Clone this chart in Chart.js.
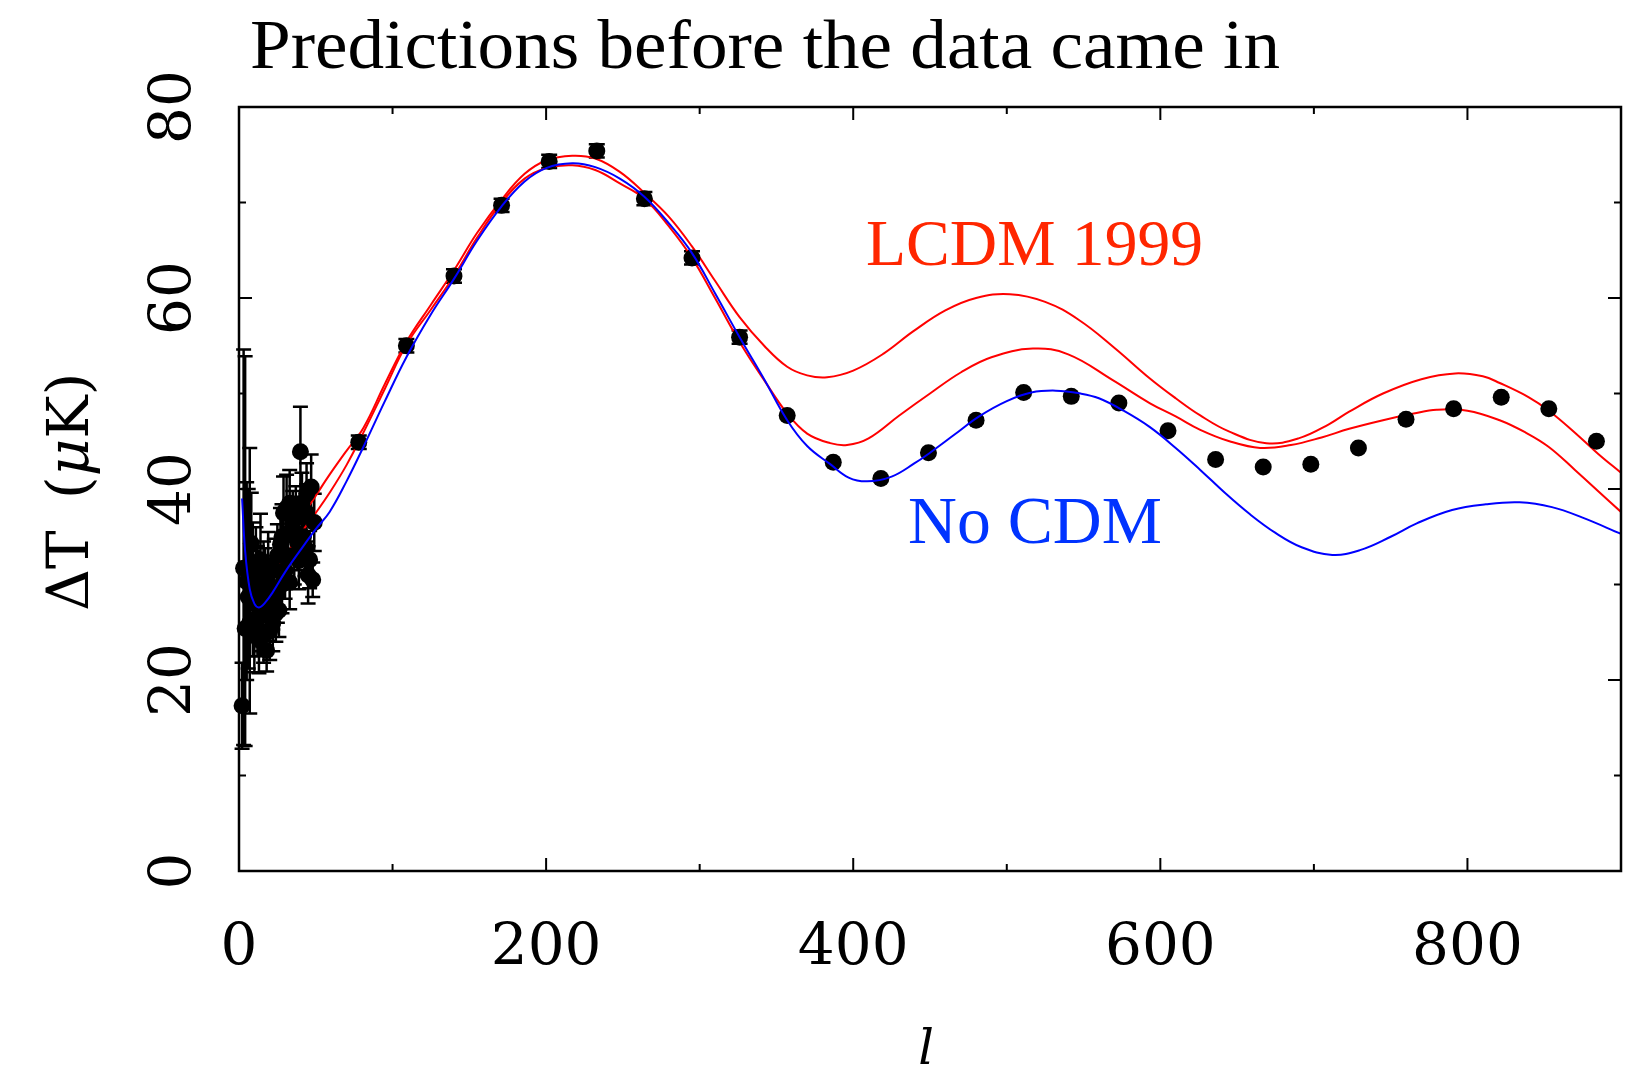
<!DOCTYPE html>
<html>
<head>
<meta charset="utf-8">
<title>Predictions before the data came in</title>
<script src="https://cdn.jsdelivr.net/npm/chart.js@4.4.1/dist/chart.umd.min.js"></script>
<style>
  html, body { margin: 0; padding: 0; background: #fff; }
  canvas { display: block; }
</style>
</head>
<body>
<canvas id="cmbChart" width="1635" height="1073"></canvas>
<script>
// axis ticks (every tick gets an inward mark, only the labelled ones are long)
const xTicks = [0, 100, 200, 300, 400, 500, 600, 700, 800, 900];
const xTickLabels = ['0', '', '200', '', '400', '', '600', '', '800', ''];
const yTicks = [0, 10, 20, 30, 40, 50, 60, 70, 80];
const yTickLabels = ['0', '', '20', '', '40', '', '60', '', '80'];

// low multipole measurements (l, dT, lower and upper error)
const lowEll = [2, 3, 4, 5, 6, 7, 8, 9, 10, 11, 12, 13, 14, 15, 16, 17, 18, 19, 20, 21, 22, 23, 24, 25,
  26, 27, 28, 29, 30, 31, 32, 33, 34, 35, 36, 37, 38, 40, 41, 42, 43, 44, 45, 46, 47, 48, 49,
  9, 12, 14, 16, 19, 22, 25, 28, 33, 36, 39, 44];
const lowDT = [17.3, 31.7, 25.4, 30.3, 28.7, 26.0, 34.3, 28.0, 24.8, 31.5, 26.5, 24.2, 32.6, 28.5, 25.0,
  30.2, 23.1, 27.5, 25.1, 29.3, 26.0, 31.5, 27.0, 29.0, 27.3, 34.2, 30.0, 37.5, 31.5, 38.0, 33.0, 30.2,
  35.5, 36.5, 33.0, 37.0, 34.5, 43.9, 38.5, 35.0, 33.9, 37.5, 31.0, 32.6, 40.2, 30.5, 36.5,
  31.0, 29.5, 27.0, 30.5, 32.0, 28.5, 33.0, 35.0, 38.5, 35.5, 32.5, 39.5];
const lowErrDown = [4.5, 18.5, 12.3, 10.3, 7.5, 9.5, 6.5, 5.5, 4.0, 4.5, 4.0, 3.5, 4.8, 3.8, 3.2, 3.6,
  2.2, 3.4, 3.0, 3.2, 3.0, 3.3, 3.0, 3.0, 2.8, 3.8, 3.0, 3.8, 3.0, 3.5, 3.0, 2.8, 3.2, 3.3, 3.0, 3.3,
  3.0, 4.7, 3.2, 3.0, 3.0, 3.0, 3.0, 3.0, 3.4, 1.8, 3.0,
  5.5, 4.5, 4.0, 4.0, 3.5, 3.2, 3.3, 3.4, 3.5, 3.2, 3.0, 3.2];
const lowErrUp = [4.5, 22.9, 28.5, 10.4, 11.3, 18.3, 5.3, 5.5, 4.0, 4.5, 4.0, 3.5, 4.8, 3.8, 3.2, 3.6,
  2.2, 3.4, 3.0, 3.2, 3.0, 3.3, 3.0, 3.0, 2.8, 3.8, 3.0, 3.8, 3.0, 3.5, 3.0, 2.8, 3.2, 3.3, 3.0, 3.3,
  3.0, 4.7, 3.2, 3.0, 3.0, 3.0, 3.0, 3.0, 3.4, 1.8, 3.0,
  5.5, 4.5, 4.0, 4.0, 3.5, 3.2, 3.3, 3.4, 3.5, 3.2, 3.0, 3.2];

// binned measurements
const binEll = [78, 109, 140, 171, 202, 233, 264, 295, 326, 357, 387, 418, 449, 480, 511, 542, 573,
  605, 636, 667, 698, 729, 760, 791, 822, 853, 884];
const binDT = [44.9, 55.0, 62.3, 69.7, 74.3, 75.4, 70.4, 64.2, 55.9, 47.7, 42.8, 41.1, 43.8, 47.2, 50.1,
  49.7, 49.0, 46.1, 43.1, 42.3, 42.6, 44.3, 47.3, 48.4, 49.6, 48.4, 45.0];
const binErr = [0.7, 0.7, 0.7, 0.7, 0.7, 0.7, 0.7, 0.7, 0.7, 0, 0, 0, 0, 0, 0, 0, 0,
  0, 0, 0, 0, 0, 0, 0, 0, 0, 0];

// model curves
const noCdmEll = [2, 4, 7, 10, 13, 17, 22, 30, 40, 50, 59, 70, 81, 95, 109, 125, 140, 155, 171, 186, 200,
  217, 232, 248, 264, 280, 295, 310, 326, 342, 357, 370, 385, 397, 409, 425, 440, 450, 466, 482, 500, 516,
  532, 548, 560, 576, 593, 610, 626, 642, 658, 675, 692, 712, 730, 750, 767, 790, 812, 834, 855, 875, 900];
const noCdmDT = [39.0, 33.5, 29.5, 28.0, 27.6, 28.1, 29.2, 31.3, 33.6, 35.8, 37.6, 40.8, 44.4, 49.2, 53.8,
  58.3, 62.0, 66.0, 69.6, 72.2, 73.6, 74.1, 73.7, 72.5, 70.6, 67.8, 64.7, 60.5, 55.9, 51.5, 47.2, 44.5,
  42.6, 41.2, 40.8, 41.3, 42.7, 43.8, 45.7, 47.6, 49.2, 50.1, 50.3, 50.0, 49.5, 48.2, 46.5, 44.3, 42.0,
  39.6, 37.4, 35.4, 33.9, 33.1, 33.6, 35.0, 36.4, 37.8, 38.4, 38.6, 38.1, 37.0, 35.3];

const lcdmUpperEll = [10, 15, 23, 30, 40, 50, 59, 70, 81, 95, 109, 125, 140, 155, 171, 186, 200, 217, 232,
  248, 264, 280, 295, 310, 326, 342, 357, 370, 383, 400, 420, 439, 460, 480, 502, 525, 547, 570, 593, 610,
  626, 645, 669, 690, 710, 723, 745, 770, 792, 810, 821, 840, 853, 870, 885, 900];
const lcdmUpperDT = [29.0, 29.8, 32.5, 34.5, 36.8, 39.3, 41.5, 44.0, 46.4, 51.0, 55.4, 59.3, 62.9, 66.8,
  70.3, 73.0, 74.4, 74.9, 74.6, 73.2, 71.0, 68.5, 65.4, 61.8, 58.0, 55.0, 52.8, 51.9, 51.7, 52.4, 54.2,
  56.5, 58.7, 60.0, 60.4, 59.6, 57.7, 54.8, 51.6, 49.5, 47.7, 46.0, 44.8, 45.3, 46.8, 48.1, 50.0, 51.5,
  52.1, 51.8, 51.1, 49.6, 48.2, 45.9, 43.7, 41.7];

const lcdmLowerEll = [10, 15, 23, 30, 40, 50, 59, 70, 81, 95, 109, 125, 140, 155, 171, 186, 200, 217, 232,
  248, 264, 280, 295, 310, 326, 342, 357, 370, 385, 396, 410, 430, 450, 470, 490, 517, 540, 569, 593, 610,
  626, 645, 665, 685, 705, 723, 745, 765, 780, 800, 821, 838, 853, 870, 885, 900];
const lcdmLowerDT = [28.5, 29.0, 31.5, 33.0, 35.3, 37.5, 39.6, 42.5, 45.9, 50.5, 55.1, 58.8, 62.3, 66.3,
  70.0, 72.5, 73.6, 73.9, 73.4, 72.0, 70.4, 67.5, 64.2, 60.0, 55.4, 51.4, 47.9, 45.8, 44.8, 44.6, 45.3,
  47.7, 50.0, 52.2, 53.8, 54.7, 54.1, 51.4, 49.0, 47.6, 46.2, 45.0, 44.3, 44.6, 45.4, 46.3, 47.2, 47.9,
  48.3, 48.2, 47.2, 45.9, 44.4, 42.0, 39.8, 37.6];

const titleText = 'Predictions before the data came in';
const lcdmLabel = 'LCDM 1999';
const noCdmLabel = 'No CDM';

const toPoints = (xs, ys) => xs.map((v, i) => ({ x: v, y: ys[i] }));

// draws text so that it spans exactly `width` pixels from `left`
function fitText(ctx, text, left, baseline, width) {
    const w = ctx.measureText(text).width;
    ctx.save();
    ctx.translate(left, baseline);
    ctx.scale(width / w, 1);
    ctx.textAlign = 'left';
    ctx.textBaseline = 'alphabetic';
    ctx.fillText(text, 0, 0);
    ctx.restore();
}

const decorations = {
    id: 'decorations',
    beforeDatasetsDraw(chart) {
        const { ctx, scales: { x, y } } = chart;
        ctx.save();
        ctx.strokeStyle = '#000';
        ctx.lineWidth = 2.5;
        chart.data.datasets.forEach(ds => {
            if (!ds.errDown) return;
            const half = ds.capHalf;
            ds.data.forEach((p, i) => {
                if (!ds.errDown[i] && !ds.errUp[i]) return;
                const px = x.getPixelForValue(p.x);
                const top = y.getPixelForValue(p.y + ds.errUp[i]);
                const bot = y.getPixelForValue(p.y - ds.errDown[i]);
                ctx.beginPath();
                ctx.moveTo(px, top); ctx.lineTo(px, bot);
                ctx.moveTo(px - half, top); ctx.lineTo(px + half, top);
                ctx.moveTo(px - half, bot); ctx.lineTo(px + half, bot);
                ctx.stroke();
            });
        });
        ctx.restore();
    },
    afterDraw(chart) {
        const { ctx, chartArea: a, scales: { x, y } } = chart;
        ctx.save();

        // frame with inward ticks on all four sides
        ctx.strokeStyle = '#000';
        ctx.lineWidth = 2.5;
        ctx.strokeRect(a.left, a.top, a.right - a.left, a.bottom - a.top);
        ctx.lineWidth = 2;
        ctx.beginPath();
        xTicks.forEach((t, i) => {
            const px = x.getPixelForValue(t);
            const len = xTickLabels[i] ? 13 : 7;
            ctx.moveTo(px, a.bottom); ctx.lineTo(px, a.bottom - len);
            ctx.moveTo(px, a.top); ctx.lineTo(px, a.top + len);
        });
        yTicks.forEach((t, i) => {
            const py = y.getPixelForValue(t);
            const len = yTickLabels[i] ? 13 : 7;
            ctx.moveTo(a.left, py); ctx.lineTo(a.left + len, py);
            ctx.moveTo(a.right, py); ctx.lineTo(a.right - len, py);
        });
        ctx.stroke();

        // tick labels
        ctx.fillStyle = '#000';
        ctx.font = '58px "DejaVu Serif"';
        ctx.textAlign = 'center';
        ctx.textBaseline = 'alphabetic';
        xTicks.forEach((t, i) => {
            if (xTickLabels[i]) ctx.fillText(xTickLabels[i], x.getPixelForValue(t), a.bottom + 93);
        });
        yTicks.forEach((t, i) => {
            if (!yTickLabels[i]) return;
            ctx.save();
            ctx.translate(a.left - 49, y.getPixelForValue(t));
            ctx.rotate(-Math.PI / 2);
            ctx.fillText(yTickLabels[i], 0, 0);
            ctx.restore();
        });

        // axis titles
        ctx.font = 'italic 49px "DejaVu Serif"';
        ctx.fillText('l', (a.left + a.right) / 2 - 4, a.bottom + 193);

        ctx.save();
        ctx.translate(88, 611);
        ctx.rotate(-Math.PI / 2);
        ctx.textAlign = 'left';
        ctx.font = '58px "DejaVu Serif"';
        ctx.fillText('\u0394T', 0, 0);
        let cx = 611 - 499;
        ctx.fillText('(', cx, 0);
        cx += ctx.measureText('(').width;
        ctx.font = 'italic 58px "DejaVu Serif"';
        ctx.fillText('\u03bc', cx, 0);
        cx += ctx.measureText('\u03bc').width;
        ctx.font = '58px "DejaVu Serif"';
        ctx.fillText('K)', cx, 0);
        ctx.restore();

        // title and model labels
        ctx.font = '69px "Liberation Serif"';
        fitText(ctx, titleText, 250, 68, 1030);

        ctx.fillStyle = '#ff2600';
        ctx.font = '65px "Liberation Serif"';
        fitText(ctx, lcdmLabel, 866, 265, 337);

        ctx.fillStyle = '#0033ff';
        ctx.font = '68px "Liberation Serif"';
        fitText(ctx, noCdmLabel, 908, 543, 254);

        ctx.restore();
    }
};

const curveStyle = {
    type: 'line',
    pointRadius: 0,
    borderWidth: 2,
    fill: false,
    tension: 0.4
};

new Chart(document.getElementById('cmbChart').getContext('2d'), {
    type: 'line',
    data: {
        datasets: [
            {
                ...curveStyle,
                label: 'No CDM',
                data: toPoints(noCdmEll, noCdmDT),
                borderColor: '#0000ff',
                order: 1
            },
            {
                ...curveStyle,
                label: 'LCDM 1999 (upper)',
                data: toPoints(lcdmUpperEll, lcdmUpperDT),
                borderColor: '#ff0000',
                order: 4
            },
            {
                ...curveStyle,
                label: 'LCDM 1999 (lower)',
                data: toPoints(lcdmLowerEll, lcdmLowerDT),
                borderColor: '#ff0000',
                order: 4
            },
            {
                label: 'Low-l data',
                data: toPoints(lowEll, lowDT),
                showLine: false,
                pointRadius: 8.5,
                pointBackgroundColor: '#000',
                pointBorderWidth: 0,
                errDown: lowErrDown,
                errUp: lowErrUp,
                capHalf: 7.5,
                clip: false,
                order: 3
            },
            {
                label: 'Binned data',
                data: toPoints(binEll, binDT),
                showLine: false,
                pointRadius: 8.5,
                pointBackgroundColor: '#000',
                pointBorderWidth: 0,
                errDown: binErr,
                errUp: binErr,
                capHalf: 8,
                clip: false,
                order: 3
            }
        ]
    },
    options: {
        responsive: false,
        animation: false,
        layout: {
            padding: { left: 239, top: 107, right: 14, bottom: 202 }
        },
        plugins: {
            legend: { display: false },
            title: { display: false },
            tooltip: { enabled: false }
        },
        scales: {
            x: { type: 'linear', min: 0, max: 900, display: false },
            y: { type: 'linear', min: 0, max: 80, display: false }
        }
    },
    plugins: [decorations]
});
</script>
</body>
</html>
